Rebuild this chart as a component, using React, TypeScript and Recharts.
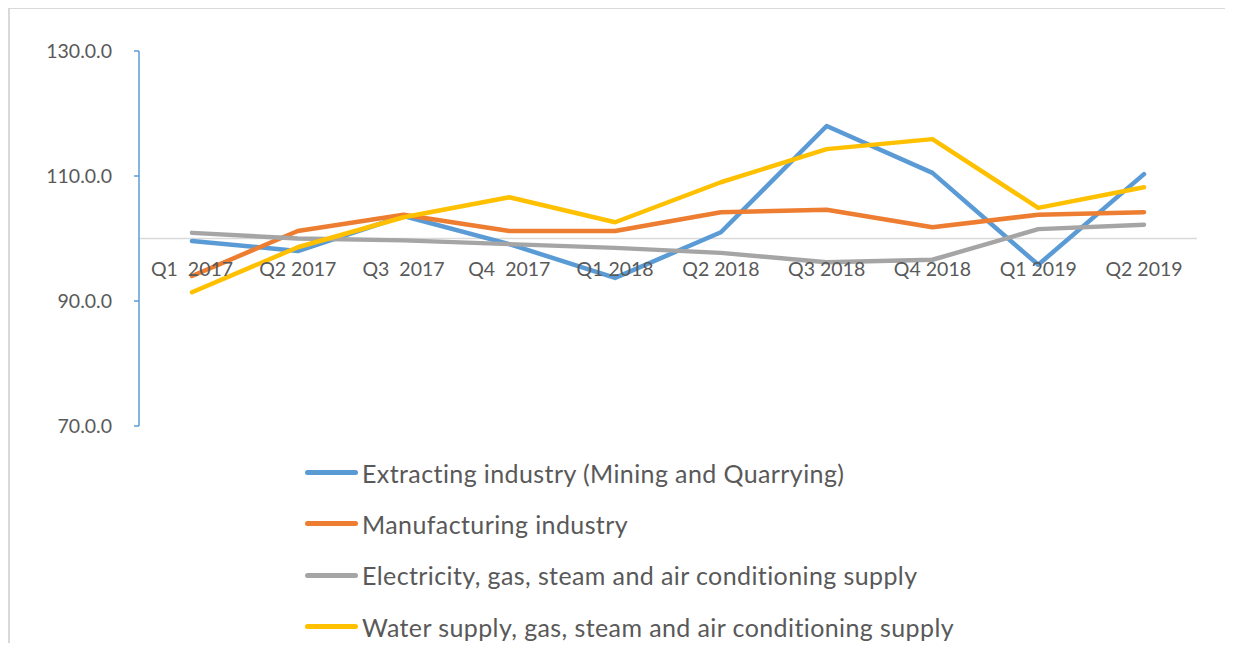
import { LineChart, Line, XAxis, YAxis, ReferenceLine } from 'recharts';

const quarters = ['Q1  2017', 'Q2 2017', 'Q3  2017', 'Q4  2017', 'Q1 2018', 'Q2 2018', 'Q3 2018', 'Q4 2018', 'Q1 2019', 'Q2 2019'];
const extracting = [99.6, 98.0, 103.6, 99.1, 93.7, 101.0, 118.0, 110.5, 95.8, 110.3];
const manufacturing = [94.0, 101.2, 103.8, 101.2, 101.2, 104.2, 104.6, 101.8, 103.8, 104.2];
const electricity = [100.9, 100.0, 99.7, 99.1, 98.5, 97.7, 96.2, 96.6, 101.5, 102.2];
const water = [91.4, 98.6, 103.4, 106.6, 102.6, 109.0, 114.3, 115.9, 104.9, 108.2];
const yTicks = [70, 90, 110, 130];

const seriesInfo = [
  { key: 'extracting', name: 'Extracting industry (Mining and Quarrying)', color: '#5B9BD5' },
  { key: 'manufacturing', name: 'Manufacturing industry', color: '#ED7D31' },
  { key: 'electricity', name: 'Electricity, gas, steam and air conditioning supply', color: '#A5A5A5' },
  { key: 'water', name: 'Water supply, gas, steam and air conditioning supply', color: '#FFC000' },
];

const data = quarters.map((q, i) => ({
  quarter: q,
  extracting: extracting[i],
  manufacturing: manufacturing[i],
  electricity: electricity[i],
  water: water[i],
}));

const FONT = 'Lato, "Open Sans", sans-serif';
const TEXT = '#595959';
const PLOT_TOP = 51;
const PLOT_H = 375;
const Y_MIN = 70;
const Y_MAX = 130;
// category labels sit just under the 100 line, like Excel's crossing axis
const LABEL_Y = PLOT_TOP + ((Y_MAX - 100) / (Y_MAX - Y_MIN)) * PLOT_H + 30;

const QuarterTick = ({ x, payload }: { x: number; payload: { value: string } }) => (
  <text
    x={x}
    y={LABEL_Y}
    textAnchor="middle"
    dominantBaseline="central"
    fill={TEXT}
    fontSize={19.5}
    fontFamily={FONT}
    style={{ whiteSpace: 'pre' }}
  >
    {payload.value}
  </text>
);

export default function App() {
  return (
    <div style={{ position: 'relative', width: 1233, height: 651, margin: -8, background: '#fff', overflow: 'hidden' }}>
      <div
        style={{
          position: 'absolute',
          left: 8,
          top: 7,
          width: 1240,
          height: 660,
          borderTop: '2px solid #d9d9d9',
          borderLeft: '2px solid #d9d9d9',
        }}
      />
      <div style={{ position: 'absolute', left: 0, top: 0 }}>
        <LineChart width={1233} height={651} data={data} margin={{ top: PLOT_TOP, right: 36, bottom: 224, left: 79 }}>
          <ReferenceLine y={100} stroke="#d9d9d9" strokeWidth={1.5} />
          <XAxis
            dataKey="quarter"
            height={1}
            axisLine={false}
            tickLine={false}
            interval={0}
            padding={{ left: 53, right: 53 }}
            tick={(props: any) => <QuarterTick {...props} />}
          />
          <YAxis
            width={60}
            domain={[Y_MIN, Y_MAX]}
            ticks={yTicks}
            tickFormatter={(v: number) => `${v.toFixed(1)}.0`}
            axisLine={{ stroke: '#5B9BD5', strokeWidth: 1.5 }}
            tickLine={{ stroke: '#5B9BD5', strokeWidth: 1.5 }}
            tickSize={5}
            tickMargin={22}
            tick={{ fill: TEXT, fontSize: 19.5, fontFamily: FONT }}
          />
          {seriesInfo.map((s) => (
            <Line
              key={s.key}
              type="linear"
              dataKey={s.key}
              name={s.name}
              stroke={s.color}
              strokeWidth={4.5}
              strokeLinecap="round"
              strokeLinejoin="round"
              dot={false}
              isAnimationActive={false}
            />
          ))}
        </LineChart>
      </div>

      {/* legend, stacked below the plot */}
      <div style={{ position: 'absolute', left: 305, top: 447, fontFamily: FONT }}>
        {seriesInfo.map((s) => (
          <div key={s.key} style={{ display: 'flex', alignItems: 'center', height: 51.3 }}>
            <span style={{ display: 'inline-block', width: 53, height: 5, borderRadius: 3, background: s.color, marginRight: 4 }} />
            <span style={{ fontSize: 25, color: TEXT, whiteSpace: 'nowrap', letterSpacing: 0.4 }}>{s.name}</span>
          </div>
        ))}
      </div>
    </div>
  );
}
